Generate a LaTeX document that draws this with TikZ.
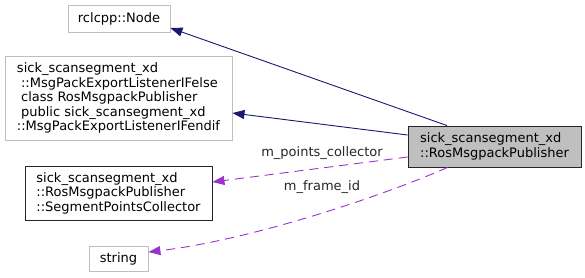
\documentclass[tikz,border=0pt]{standalone}
\usepackage{fontspec}
\setmainfont{DejaVu Sans}
\usetikzlibrary{arrows.meta}
\definecolor{midnight}{HTML}{191970}
\definecolor{orchid}{HTML}{9A32CD}
\definecolor{boxgray}{HTML}{BFBFBF}
\tikzset{
  every node/.style={font=\fontsize{13}{14.5}\selectfont, inner sep=0pt, align=left},
  extbox/.style={draw=boxgray, line width=0.9pt, fill=white},
  classbox/.style={draw=black!85, line width=0.9pt, fill=white},
  mainbox/.style={draw=black!85, line width=0.9pt, fill=boxgray},
  inherit/.style={draw=midnight, line width=0.9pt, -{Triangle[length=12pt,width=9pt]}},
  member/.style={draw=orchid, line width=0.9pt, dash pattern=on 9pt off 6pt,
                 -{Triangle[length=12pt,width=9pt]}},
  edgelabel/.style={text=black!85}
}
\begin{document}
\begin{tikzpicture}[x=1pt,y=-1pt]
  \useasboundingbox (0,0) rectangle (585,277);

  % class nodes
  \node[extbox, minimum width=102pt, minimum height=27pt] (rcl) at (119,18.5) {rclcpp::Node};
  \node[extbox, minimum width=227pt, minimum height=84pt] (iface) at (118.5,98)
    {sick\_scansegment\_xd\\
     \ ::MsgPackExportListenerIFelse\\
     \ class RosMsgpackPublisher\\
     \ public sick\_scansegment\_xd\\
     ::MsgPackExportListenerIFendif};
  \node[classbox, minimum width=187pt, minimum height=54pt] (spc) at (118.5,193)
    {sick\_scansegment\_xd\\::RosMsgpackPublisher\\::SegmentPointsCollector};
  \node[extbox, minimum width=59pt, minimum height=25pt] (str) at (118.5,258.5) {string};
  \node[mainbox, minimum width=173pt, minimum height=41pt] (main) at (494.5,146.5)
    {sick\_scansegment\_xd\\::RosMsgpackPublisher};

  % inheritance
  \draw[inherit] ([xshift=-47.5pt]main.north) -- ([yshift=-9.5pt]rcl.east);
  \draw[inherit] ([yshift=11.5pt]main.west) -- ([yshift=-15pt]iface.east);

  % members
  \draw[member] ([yshift=-10.5pt]main.west) -- ([yshift=11pt]spc.east);
  \draw[member] ([xshift=-47pt]main.south)
     .. controls (380,197) and (250,240) .. ([yshift=6.5pt]str.east);

  % member labels
  \node[edgelabel] (lpc) at (322,153) {m\_points\_collector};
  \node[edgelabel] (lfi) at (322,187.5) {m\_frame\_id};
\end{tikzpicture}
\end{document}
